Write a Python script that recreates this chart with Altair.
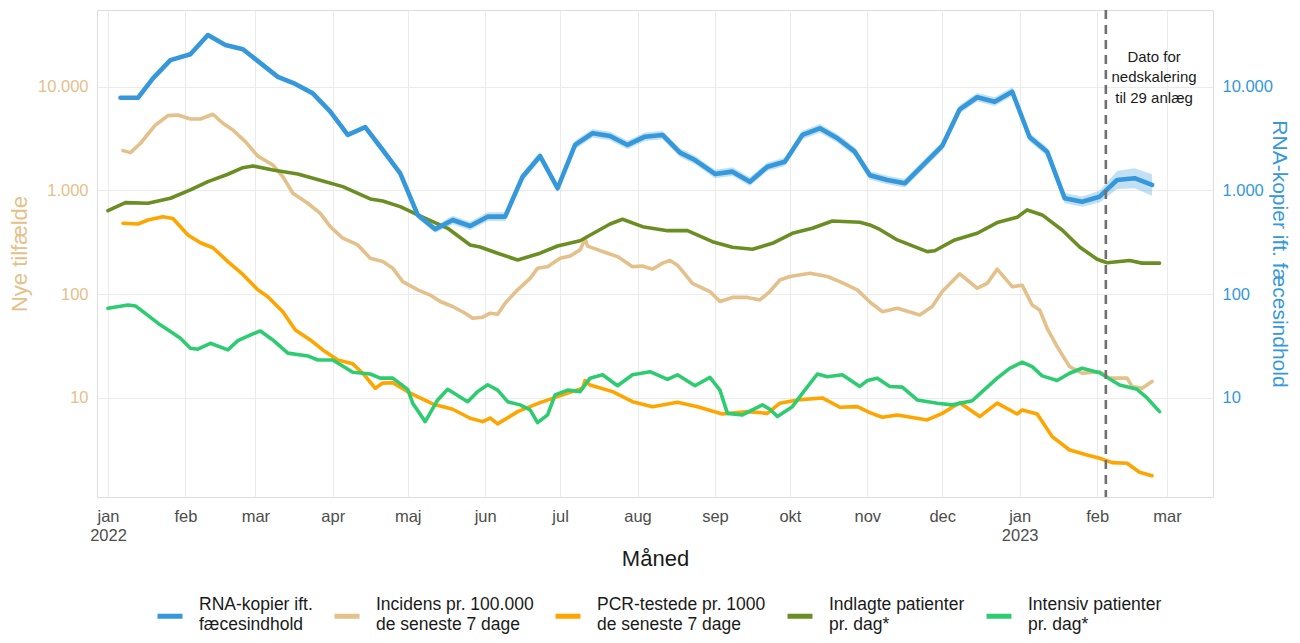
import altair as alt
import pandas as pd

BASE = pd.Timestamp("2022-01-01")

series_names = [
    "RNA-kopier ift.\nfæcesindhold",
    "Incidens pr. 100.000\nde seneste 7 dage",
    "PCR-testede pr. 1000\nde seneste 7 dage",
    "Indlagte patienter\npr. dag*",
    "Intensiv patienter\npr. dag*",
]
series_colors = ["#3498DB", "#E4C08A", "#FFA500", "#6B8E23", "#2ECC71"]

# RNA copies (weekly), day offsets from 2022-01-01
rna_day = [5, 12, 18, 25, 33, 40, 47, 54, 68, 75, 82, 89, 96, 103, 110, 117, 124, 131, 138, 145,
           152, 159, 166, 173, 180, 187, 194, 201, 208, 215, 222, 229, 235, 243, 250, 257, 264, 271,
           278, 285, 292, 299, 305, 312, 319, 327, 334, 341, 348, 355, 362, 369, 376, 383, 390, 397,
           404, 411, 418]
rna_val = [7800, 7800, 12000, 18000, 20500, 31400, 25200, 22900, 12400, 10600, 8600, 5730, 3420,
           4060, 2450, 1460, 580, 422, 518, 454, 558, 558, 1355, 2140, 1048, 2740, 3550, 3340, 2740,
           3290, 3420, 2310, 1960, 1440, 1515, 1213, 1690, 1890, 3420, 3960, 3180, 2360, 1400, 1259,
           1170, 1820, 2680, 6040, 7890, 7160, 8940, 3250, 2360, 840, 778, 869, 1259, 1310, 1127]
rna_band = [1.03, 1.03, 1.03, 1.03, 1.03, 1.03, 1.03, 1.03, 1.03, 1.03, 1.03, 1.04, 1.04, 1.04,
            1.05, 1.06, 1.08, 1.08, 1.1, 1.1, 1.1, 1.1, 1.1, 1.1, 1.1, 1.1, 1.1, 1.1, 1.1, 1.1, 1.1,
            1.1, 1.1, 1.1, 1.1, 1.1, 1.1, 1.1, 1.1, 1.1, 1.1, 1.1, 1.1, 1.1, 1.1, 1.1, 1.1, 1.1, 1.1,
            1.1, 1.1, 1.1, 1.1, 1.12, 1.12, 1.14, 1.22, 1.25, 1.27]

inc_day = [6, 9, 13, 19, 24, 28, 33, 37, 42, 46, 50, 55, 60, 66, 70, 74, 80, 85, 89, 94, 100, 105,
           110, 114, 118, 124, 129, 133, 138, 143, 146, 150, 153, 156, 159, 164, 169, 172, 176, 181,
           185, 189, 191, 192, 200, 204, 210, 214, 218, 222, 225, 228, 234, 241, 245, 250, 256, 261,
           265, 269, 273, 281, 288, 293, 300, 305, 310, 316, 325, 330, 334, 341, 348, 352, 356, 362,
           366, 370, 373, 376, 380, 385, 390, 397, 401, 408, 410, 414, 418]
inc_val = [2415, 2310, 2845, 4270, 5250, 5330, 4870, 4870, 5410, 4430, 3820, 2945, 2140, 1757, 1355,
           938, 751, 601, 447, 346, 298, 222, 206, 178, 132, 110, 98, 85, 76, 65.5, 58.6, 60, 65.5,
           64, 81.7, 110, 142, 178, 184, 222, 233, 267, 340, 290, 248, 230, 184, 187, 174, 199, 211,
           190, 127, 106, 85, 93, 93, 88, 106, 137, 148, 159, 148, 132, 110, 84, 67.8, 73, 63, 76,
           106, 157, 114, 127, 174, 118, 122, 78.7, 70.5, 46.9, 31.2, 20, 17.3, 17.9, 15.5, 15.5,
           12.9, 12.4, 14.4]

pcr_day = [6, 12, 16, 22, 26, 32, 37, 42, 48, 54, 60, 64, 70, 75, 81, 86, 92, 98, 102, 107, 110,
           114, 121, 130, 138, 145, 150, 153, 156, 164, 173, 180, 185, 190, 191, 193, 202, 210, 218,
           228, 236, 246, 256, 264, 269, 276, 286, 293, 300, 305, 310, 316, 328, 334, 341, 349, 356,
           364, 366, 372, 378, 385, 392, 397, 402, 408, 413, 418]
pcr_val = [482, 474, 518, 558, 535, 372, 313, 280, 206, 155, 110, 94.6, 67.8, 45.2, 36.2, 29, 23.2,
           21.3, 17.3, 12.4, 13.9, 14, 11.1, 8.75, 7.78, 6.37, 5.91, 6.4, 5.62, 7.38, 9.0, 10.3,
           11.3, 12.4, 14.7, 13.3, 11.5, 9.2, 8.24, 9.1, 8.24, 7.0, 7.38, 7.1, 8.9, 9.57, 10, 8.13,
           8.24, 7.22, 6.52, 6.86, 6.14, 7.1, 9.0, 6.61, 8.9, 7.0, 7.66, 7.0, 4.24, 3.15, 2.82,
           2.62, 2.38, 2.35, 1.92, 1.78]

ind_day = [0, 7, 16, 25, 33, 40, 48, 54, 58, 66, 76, 86, 94, 105, 110, 117, 124, 136, 145, 149,
           156, 164, 173, 180, 189, 201, 206, 214, 224, 232, 242, 250, 258, 266, 274, 282, 290, 301,
           305, 309, 316, 328, 331, 339, 348, 356, 364, 368, 374, 382, 389, 396, 400, 409, 414, 421]
ind_val = [637, 762, 751, 840, 1010, 1213, 1430, 1655, 1720, 1573, 1440, 1233, 1087, 826, 791, 697,
           580, 431, 298, 285, 248, 213, 248, 291, 327, 474, 527, 447, 409, 409, 320, 283, 271, 309,
           386, 431, 507, 493, 464, 420, 333, 257, 262, 333, 386, 489, 551, 648, 580, 415, 285, 217,
           201, 211, 199, 199]

icu_day = [0, 8, 11, 14, 20, 25, 29, 33, 36, 41, 48, 52, 58, 61, 66, 72, 80, 84, 90, 98, 105, 109,
           114, 120, 122, 127, 132, 136, 144, 148, 152, 156, 160, 165, 169, 172, 176, 179, 184, 189,
           193, 198, 204, 210, 217, 224, 228, 235, 241, 245, 248, 254, 262, 265, 268, 274, 279, 284,
           288, 294, 301, 304, 308, 313, 318, 324, 332, 338, 346, 350, 356, 361, 366, 370, 374, 380,
           385, 390, 397, 405, 412, 416, 421]
icu_val = [73, 78.7, 77, 67.8, 52.5, 43.6, 37.6, 30.1, 29.5, 33.6, 29, 35.6, 41.4, 44.2, 36.2, 27,
           25.4, 23.2, 23.2, 17.7, 17.0, 15.5, 15.5, 12.1, 8.9, 5.91, 9.57, 12.1, 9.2, 11.5, 13.4,
           11.9, 9.2, 8.57, 7.66, 5.78, 6.86, 10.7, 11.9, 11.5, 15.5, 16.7, 13.1, 16.7, 17.9, 15.1,
           16.7, 13.1, 15.8, 11.9, 7.1, 6.86, 8.57, 7.78, 6.61, 8.24, 11.9, 17.0, 16.0, 16.7, 12.9,
           14.7, 15.5, 12.9, 12.7, 9.57, 8.9, 8.57, 9.4, 11.5, 15.5, 19.3, 22.1, 20, 16.3, 14.7,
           17.3, 19.3, 17.5, 13.3, 12.1, 10, 7.38]

cutoff_day = 399.5
note_day = 418.8
note_value = 19300
note_text = "Dato for\nnedskalering\ntil 29 anlæg"

y_ticks = [10, 100, 1000, 10000]
y_domain = [1.11, 54700]
x_domain_days = [-4.4, 442.4]
month_labels = ["jan", "feb", "mar", "apr", "maj", "jun", "jul", "aug", "sep", "okt", "nov", "dec"]


def ts(day):
    return int((BASE + pd.Timedelta(days=day)).value // 10**6)


rows = []
for name, days, vals in [
    (series_names[1], inc_day, inc_val),
    (series_names[2], pcr_day, pcr_val),
    (series_names[3], ind_day, ind_val),
    (series_names[4], icu_day, icu_val),
]:
    for d, v in zip(days, vals):
        rows.append({"series": name, "date": ts(d), "value": v})
df_left = pd.DataFrame(rows)

df_rna = pd.DataFrame({
    "series": series_names[0],
    "date": [ts(d) for d in rna_day],
    "value": rna_val,
    "lo": [v / f for v, f in zip(rna_val, rna_band)],
    "hi": [v * f for v, f in zip(rna_val, rna_band)],
})

month_ts = [int(pd.Timestamp(year=2022 + (m // 12), month=(m % 12) + 1, day=1).value // 10**6)
            for m in range(15)]

FONT = "Liberation Sans"
TAN = series_colors[1]
BLUE = series_colors[0]

mnames = "[" + ",".join("'%s'" % m for m in month_labels) + "]"
x_label_expr = ("utcmonth(datum.value) == 0 ? [%s[utcmonth(datum.value)], utcFormat(datum.value, '%%Y')]"
                " : %s[utcmonth(datum.value)]") % (mnames, mnames)
y_label_expr = ("datum.value >= 1000 ? replace(format(datum.value, ','), ',', '.') : "
                "format(datum.value, 'd')")

x_enc = alt.X(
    "date:T",
    scale=alt.Scale(type="utc", domain=[ts(x_domain_days[0]), ts(x_domain_days[1])], nice=False),
    axis=alt.Axis(
        values=month_ts, labelExpr=x_label_expr, grid=True, gridColor="#EBEBEB", gridWidth=1,
        ticks=False, domain=False, labelFontSize=16.5, labelColor="#4D4D4D", labelPadding=11,
        labelLineHeight=19, labelFlush=False, labelOverlap=False, labelBound=False,
        title="Måned", titleFontSize=22, titleFontWeight="normal", titleColor="#1A1A1A",
        titlePadding=5,
    ),
)

color_scale = alt.Scale(domain=series_names, range=series_colors)
legend = alt.Legend(
    title=None, orient="none", legendX=58, legendY=580, direction="horizontal", columns=5,
    symbolType="M-1,0.9L1,0.9", symbolSize=625, symbolStrokeWidth=5, labelFontSize=17.5,
    labelOffset=14, columnPadding=11, labelLimit=0, labelExpr="split(datum.label, '\\n')",
    labelColor="#1A1A1A", labelBaseline="middle",
)


def y_axis(orient, color, title, grid, lpad, tpad, tsize):
    return alt.Axis(
        orient=orient, values=y_ticks, labelExpr=y_label_expr, grid=grid, gridColor="#EBEBEB",
        gridWidth=1, ticks=False, domain=False, labelColor=color, labelFontSize=16.5,
        labelPadding=lpad, title=title, titleColor=color, titleFontSize=tsize,
        titleFontWeight="normal", titlePadding=tpad,
    )


y_scale = alt.Scale(type="log", domain=y_domain, nice=False)
left_axis = y_axis("left", TAN, "Nye tilfælde", True, 9, 6, 22)
right_axis = y_axis("right", BLUE, "RNA-kopier ift. fæcesindhold", False, 9, -4, 21)

left_lines = alt.Chart(df_left).mark_line(strokeWidth=3.6, strokeJoin="round", strokeCap="round").encode(
    x=x_enc,
    y=alt.Y("value:Q", scale=y_scale, axis=left_axis),
    color=alt.Color("series:N", scale=color_scale, legend=legend, sort=series_names),
    detail="series:N",
)

rna_band_layer = alt.Chart(df_rna).mark_area(color=BLUE, opacity=0.3).encode(
    x=x_enc,
    y=alt.Y("lo:Q", scale=y_scale, axis=right_axis),
    y2="hi:Q",
)
rna_line = alt.Chart(df_rna).mark_line(strokeWidth=4.6, strokeJoin="round", strokeCap="round").encode(
    x=x_enc,
    y=alt.Y("value:Q", scale=y_scale, axis=right_axis),
    color=alt.Color("series:N", scale=color_scale, legend=legend, sort=series_names),
)
right = alt.layer(rna_band_layer, rna_line)

rule = alt.Chart(pd.DataFrame({"date": [ts(cutoff_day)]})).mark_rule(
    color="#707070", strokeWidth=2.6, strokeDash=[9, 6]
).encode(x=x_enc)

note = alt.Chart(pd.DataFrame({"date": [ts(note_day)], "value": [note_value], "text": [note_text]})).mark_text(
    lineBreak="\n", fontSize=15, lineHeight=20.5, color="#1A1A1A", align="center", baseline="middle",
    font=FONT,
).encode(
    x=x_enc,
    y=alt.Y("value:Q", scale=y_scale, axis=None),
    text="text:N",
)

annot = alt.layer(rule, note)

chart = alt.layer(left_lines, right, annot).resolve_scale(y="independent").properties(
    width=1116, height=487,
    padding={"left": 89, "top": 2, "right": 79, "bottom": 138},
    autosize=alt.AutoSizeParams(type="none"),
    background="white",
).configure_view(stroke=None).configure(font=FONT)

chart.save("out.html", embed_options={"renderer": "svg", "actions": False})
